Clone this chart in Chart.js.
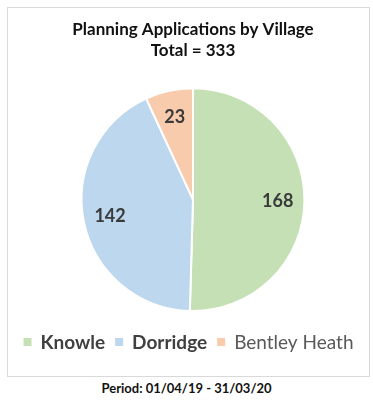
<!DOCTYPE html>
<html>
<head>
<meta charset="utf-8">
<script src="https://cdn.jsdelivr.net/npm/chart.js@4.4.1/dist/chart.umd.min.js"></script>
<style>
  html, body { margin: 0; padding: 0; background: #fff; }
  body { width: 373px; height: 402px; position: relative; font-family: Lato, "Open Sans", sans-serif; }
  .frame {
    position: absolute; left: 7px; top: 7px; width: 361px; height: 368px;
    border: 1px solid #d9d9d9; box-sizing: content-box;
  }
  .frame canvas { display: block; }
  .period {
    position: absolute; left: 0; right: 0; top: 380px;
    text-align: center; font-weight: bold; font-size: 13px; color: #111;
  }
</style>
</head>
<body>
<div class="frame"><canvas id="villageChart" width="361" height="368"></canvas></div>
<div class="period">Period: 01/04/19 - 31/03/20</div>
<script>
// Planning applications per village
const villages = ['Knowle', 'Dorridge', 'Bentley Heath'];
const applications = [168, 142, 23];
const sliceColours = ['#C5E0B4', '#BDD7EE', '#F8CBAD'];
const legendWeights = ['bold', 'bold', 'normal'];
const legendColours = ['#404040', '#404040', '#595959'];

const total = applications.reduce((a, b) => a + b, 0);

// value labels inside each slice
const sliceLabels = {
    id: 'sliceLabels',
    afterDatasetsDraw(chart) {
        const { ctx } = chart;
        const meta = chart.getDatasetMeta(0);
        ctx.save();
        ctx.font = 'bold 18px Lato, "Open Sans", sans-serif';
        ctx.fillStyle = '#3a3a3a';
        ctx.textAlign = 'center';
        ctx.textBaseline = 'middle';
        meta.data.forEach((arc, i) => {
            const p = arc.getProps(['x', 'y', 'startAngle', 'endAngle', 'outerRadius'], true);
            const mid = (p.startAngle + p.endAngle) / 2;
            const r = p.outerRadius * 0.76;
            ctx.fillText(String(chart.data.datasets[0].data[i]), p.x + Math.cos(mid) * r, p.y + Math.sin(mid) * r);
        });
        ctx.restore();
    }
};

// legend row under the pie, mixed weights so drawn by hand
const bottomLegend = {
    id: 'bottomLegend',
    afterDraw(chart) {
        const { ctx, width } = chart;
        const labels = chart.data.labels;
        const colours = chart.data.datasets[0].backgroundColor;
        const box = 8, gapText = 9, gapItem = 10;
        const y = 334;
        ctx.save();
        ctx.textBaseline = 'middle';
        const widths = labels.map((t, i) => {
            ctx.font = legendWeights[i] + ' 19px Lato, "Open Sans", sans-serif';
            return ctx.measureText(t).width;
        });
        const full = widths.reduce((s, w) => s + box + gapText + w, 0) + gapItem * (labels.length - 1);
        let x = (width - full) / 2;
        labels.forEach((t, i) => {
            ctx.fillStyle = colours[i];
            ctx.fillRect(x, y - box / 2, box, box);
            x += box + gapText;
            ctx.font = legendWeights[i] + ' 19px Lato, "Open Sans", sans-serif';
            ctx.fillStyle = legendColours[i];
            ctx.fillText(t, x, y + 1);
            x += widths[i] + gapItem;
        });
        ctx.restore();
    }
};

new Chart(document.getElementById('villageChart'), {
    type: 'pie',
    data: {
        labels: villages,
        datasets: [{
            data: applications,
            backgroundColor: sliceColours,
            borderColor: '#ffffff',
            borderWidth: 2,
            hoverOffset: 0
        }]
    },
    options: {
        responsive: false,
        animation: false,
        events: [],
        layout: { padding: { top: 0, bottom: 64, left: 9, right: 0 } },
        plugins: {
            legend: { display: false },
            tooltip: { enabled: false },
            title: {
                display: true,
                text: ['Planning Applications by Village', 'Total = ' + total],
                color: '#111111',
                font: { family: 'Lato, "Open Sans", sans-serif', size: 17, weight: 'bold', lineHeight: 1.24 },
                padding: { top: 11, bottom: 26 }
            }
        }
    },
    plugins: [sliceLabels, bottomLegend]
});
</script>
</body>
</html>
